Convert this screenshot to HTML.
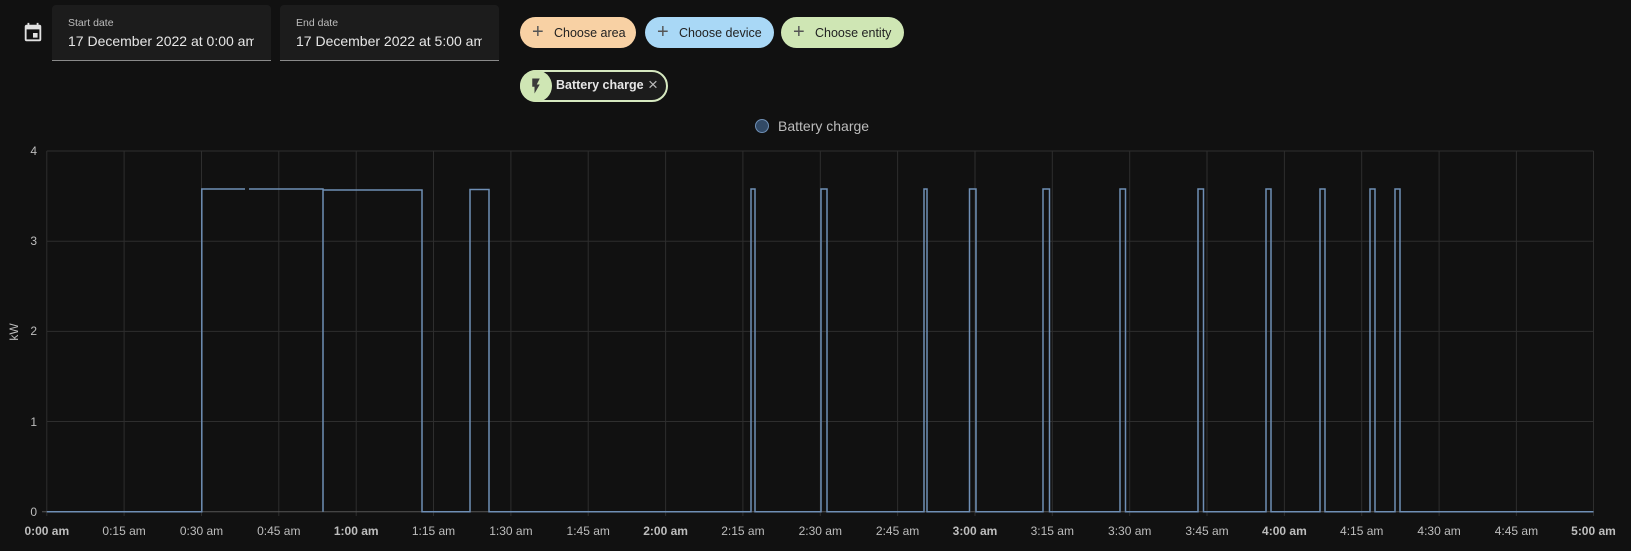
<!DOCTYPE html>
<html><head><style>
body{margin:0;width:1631px;height:551px;background:#111111;overflow:hidden;font-family:"Liberation Sans",sans-serif;position:relative;color:#e1e1e1}
.box{position:absolute;top:5px;height:55px;background:#1c1c1c;border-bottom:1px solid #8a8a8a;border-radius:4px 4px 0 0}
.box .l{position:absolute;left:16px;top:12px;font-size:10.5px;color:#bdbdbd}
.box .v{position:absolute;left:16px;top:28px;font-size:14px;color:#e6e6e6;white-space:nowrap;overflow:hidden;width:186px}
.chip{position:absolute;top:17px;height:31px;border-radius:16px;font-size:12.5px;color:#222;line-height:33px}
.chip span{position:absolute;left:12px;font-size:20px;color:#555;top:-1px}
.chip b{font-weight:normal;position:absolute;left:34px}
</style></head><body>
<svg style="position:absolute;left:22px;top:22px" width="22" height="22" viewBox="0 0 24 24"><path fill="#e1e1e1" d="M19 19H5V8h14m-3-7v2H8V1H6v2H5c-1.11 0-2 .89-2 2v14a2 2 0 0 0 2 2h14a2 2 0 0 0 2-2V5a2 2 0 0 0-2-2h-1V1m-1 11h-5v5h5v-5z"/></svg>
<div class="box" style="left:52px;width:219px"><div class="l">Start date</div><div class="v">17 December 2022 at 0:00 am</div></div>
<div class="box" style="left:280px;width:219px"><div class="l">End date</div><div class="v">17 December 2022 at 5:00 am</div></div>
<div class="chip" style="left:520px;width:116px;background:#f8d1a4"><span>+</span><b>Choose area</b></div>
<div class="chip" style="left:645px;width:129px;background:#a9d8f6"><span>+</span><b>Choose device</b></div>
<div class="chip" style="left:781px;width:123px;background:#cfe6b4"><span>+</span><b>Choose entity</b></div>
<div style="position:absolute;left:520px;top:70px;width:144px;height:28px;border:2px solid #d6e9c0;border-radius:16px;background:#1c1c1c"></div>
<div style="position:absolute;left:520px;top:70px;width:32px;height:32px;border-radius:16px;background:#cfe6b4"></div>
<svg style="position:absolute;left:527px;top:76px" width="18" height="20" viewBox="0 0 24 24"><path fill="#3a3a3a" d="M7 2v11h3v9l7-12h-4l4-8z"/></svg>
<div style="position:absolute;left:556px;top:78px;font-size:12.5px;font-weight:bold;color:#e6e6e6">Battery charge</div>
<div style="position:absolute;left:648px;top:75px;font-size:17px;color:#bbb">×</div>
<div style="position:absolute;left:755px;top:119px;width:14px;height:14px;border-radius:50%;background:#324a66;border:1px solid #6f8fb5;box-sizing:border-box"></div>
<div style="position:absolute;left:778px;top:118px;font-size:14px;color:#bdbdbd">Battery charge</div>
<svg style="position:absolute;left:0;top:0" width="1631" height="551">
<g stroke="#2e2e2e" stroke-width="1">
<line x1="46.8" x2="1593.5" y1="151" y2="151"/><line x1="46.8" x2="1593.5" y1="241.2" y2="241.2"/><line x1="46.8" x2="1593.5" y1="331.4" y2="331.4"/><line x1="46.8" x2="1593.5" y1="421.5" y2="421.5"/>
<line x1="46.8" x2="46.8" y1="151" y2="516"/><line x1="124.1" x2="124.1" y1="151" y2="516"/><line x1="201.5" x2="201.5" y1="151" y2="516"/><line x1="278.8" x2="278.8" y1="151" y2="516"/><line x1="356.2" x2="356.2" y1="151" y2="516"/><line x1="433.5" x2="433.5" y1="151" y2="516"/><line x1="510.9" x2="510.9" y1="151" y2="516"/><line x1="588.2" x2="588.2" y1="151" y2="516"/><line x1="665.6" x2="665.6" y1="151" y2="516"/><line x1="742.9" x2="742.9" y1="151" y2="516"/><line x1="820.3" x2="820.3" y1="151" y2="516"/><line x1="897.6" x2="897.6" y1="151" y2="516"/><line x1="975" x2="975" y1="151" y2="516"/><line x1="1052.3" x2="1052.3" y1="151" y2="516"/><line x1="1129.7" x2="1129.7" y1="151" y2="516"/><line x1="1207" x2="1207" y1="151" y2="516"/><line x1="1284.4" x2="1284.4" y1="151" y2="516"/><line x1="1361.7" x2="1361.7" y1="151" y2="516"/><line x1="1439.1" x2="1439.1" y1="151" y2="516"/><line x1="1516.4" x2="1516.4" y1="151" y2="516"/><line x1="1593.5" x2="1593.5" y1="151" y2="516"/>
</g>
<line x1="42" x2="1593.5" y1="511.7" y2="511.7" stroke="#555"/>
<path fill="none" stroke="#6f8fb5" stroke-width="1.5" d="M46.8 511.7H201.8V189H245M249 189H323V511.7V190H422V511.7H470V189.5H489V511.7H751V189H755V511.7H821V189H827V511.7H924V189H927V511.7H969.5V189H976V511.7H1043V189H1049.5V511.7H1120V189H1125.5V511.7H1198V189H1203.5V511.7H1266V189H1271V511.7H1320V189H1325V511.7H1370V189H1375V511.7H1395V189H1400V511.7H1593.5"/>
<g font-size="12" fill="#bdbdbd" text-anchor="end">
<text x="37" y="155">4</text><text x="37" y="245">3</text><text x="37" y="335">2</text><text x="37" y="426">1</text><text x="37" y="516">0</text>
</g>
<text x="18" y="332" font-size="12" fill="#bdbdbd" transform="rotate(-90 18 332)" text-anchor="middle">kW</text>
<g font-size="12" fill="#bdbdbd" text-anchor="middle">
<text x="46.8" y="535" font-weight="bold">0:00 am</text><text x="124.1" y="535">0:15 am</text><text x="201.5" y="535">0:30 am</text><text x="278.8" y="535">0:45 am</text><text x="356.2" y="535" font-weight="bold">1:00 am</text><text x="433.5" y="535">1:15 am</text><text x="510.9" y="535">1:30 am</text><text x="588.2" y="535">1:45 am</text><text x="665.6" y="535" font-weight="bold">2:00 am</text><text x="742.9" y="535">2:15 am</text><text x="820.3" y="535">2:30 am</text><text x="897.6" y="535">2:45 am</text><text x="975" y="535" font-weight="bold">3:00 am</text><text x="1052.3" y="535">3:15 am</text><text x="1129.7" y="535">3:30 am</text><text x="1207" y="535">3:45 am</text><text x="1284.4" y="535" font-weight="bold">4:00 am</text><text x="1361.7" y="535">4:15 am</text><text x="1439.1" y="535">4:30 am</text><text x="1516.4" y="535">4:45 am</text><text x="1593.5" y="535" font-weight="bold">5:00 am</text>
</g>
</svg>
</body></html>
